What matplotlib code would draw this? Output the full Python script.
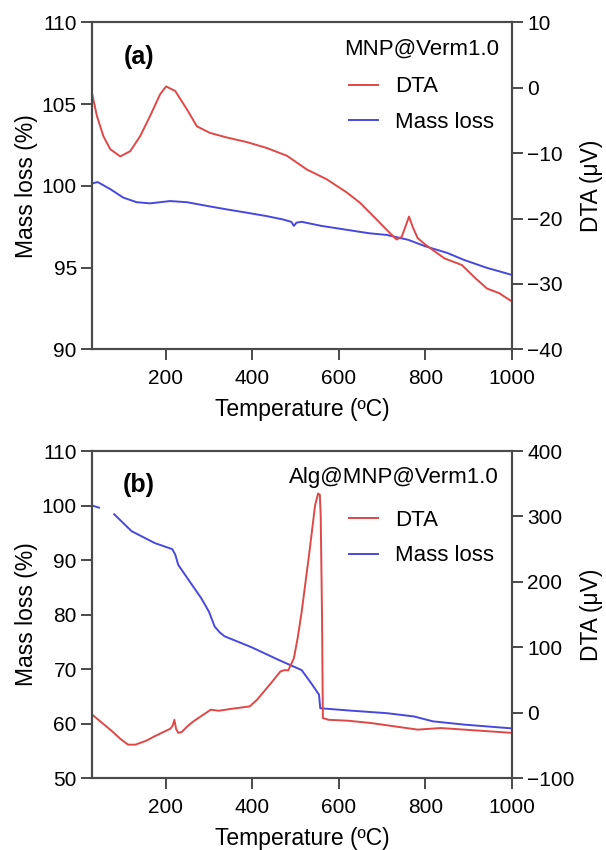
import matplotlib
matplotlib.use("Agg")
import matplotlib.pyplot as plt
import numpy as np

plt.rcParams["font.family"] = ["Liberation Sans", "DejaVu Sans"]

# ---- panel (a): MNP@Verm1.0 ----
a_dta_T = [30, 41, 56, 72, 95, 118, 141, 164, 187, 201, 222, 249, 272, 302, 341, 387,
           433, 480, 526, 572, 618, 649, 685, 710, 733, 745, 755, 762, 770, 782, 800,
           844, 884, 915, 942, 970, 1000]
a_dta = [-0.9, -4.3, -7.4, -9.4, -10.5, -9.7, -7.4, -4.3, -1.0, 0.2, -0.5, -3.3, -5.9,
         -6.9, -7.6, -8.3, -9.2, -10.4, -12.5, -14.0, -16.0, -17.6, -20.0, -21.7, -23.2,
         -22.8, -21.0, -19.7, -21.2, -23.0, -24.0, -26.1, -27.1, -29.1, -30.7, -31.4, -32.7]

a_mass_T = [30, 43, 72, 102, 133, 164, 210, 249, 296, 341, 387, 433, 470, 490, 496, 502,
            514, 560, 621, 670, 710, 760, 800, 850, 889, 940, 1000]
a_mass = [100.15, 100.23, 99.8, 99.28, 99.0, 98.93, 99.07, 99.0, 98.77, 98.56, 98.36,
          98.15, 97.95, 97.8, 97.55, 97.75, 97.8, 97.55, 97.3, 97.1, 97.0, 96.7, 96.3,
          95.9, 95.47, 95.0, 94.55]

# ---- panel (b): Alg@MNP@Verm1.0 ----
b_dta_T = [30, 50, 77, 95, 113, 130, 155, 175, 200, 211, 216, 220, 224, 229, 237, 250,
           264, 285, 304, 315, 322, 353, 394, 411, 443, 465, 475, 483, 496, 505, 514,
           532, 545, 552, 556, 558, 561, 563, 576, 621, 675, 728, 782, 835, 889, 1000]
b_dta = [-3, -14, -29, -40, -49, -49, -43, -36, -28, -24.6, -20, -11, -25, -31, -29.7,
         -21, -13.4, -4, 4.4, 3.5, 2.8, 5.9, 9.5, 19.7, 45, 63, 65, 64.5, 83, 115, 154,
         246, 317, 335, 333, 300, 150, -8.3, -11, -12.4, -16, -21, -26, -23.6, -26, -31]

b_mass_T = [30, 46, 60, 81, 121, 175, 215, 222, 229, 255, 282, 300, 313, 325, 336, 398,
            460, 514, 536, 554, 557, 621, 710, 773, 817, 889, 1000]
b_mass = [100.0, 99.6, np.nan, 98.4, 95.3, 93.1, 92.0, 91.0, 89.1, 86.1, 83.0, 80.5,
          77.8, 76.7, 76.0, 74.0, 71.7, 69.8, 67.4, 65.3, 62.8, 62.4, 61.9, 61.3, 60.4,
          59.8, 59.1]

RED = "#e04848"
BLUE = "#4848e0"
SPINE = "#4a4a4a"


def _panel(ax, T_dta, dta, T_mass, mass, tag, sample, leg_y,
           left_lim, left_ticks, right_lim, right_ticks):
    ax2 = ax.twinx()
    l1, = ax2.plot(T_dta, dta, color=RED, lw=1.4, label="DTA")
    l2, = ax.plot(T_mass, mass, color=BLUE, lw=1.4, label="Mass loss")
    ax.set_xlim(30, 1000)
    ax.set_ylim(*left_lim)
    ax.set_yticks(left_ticks)
    ax2.set_ylim(*right_lim)
    ax2.set_yticks(right_ticks)
    ax.set_xticks([200, 400, 600, 800, 1000])
    for a in (ax, ax2):
        for s in a.spines.values():
            s.set_color(SPINE)
            s.set_linewidth(1.5)
        a.tick_params(axis="y", length=8, width=1.4, color=SPINE, labelsize=15, pad=3)
    ax.tick_params(axis="x", length=8, width=1.4, color=SPINE, labelsize=15, pad=6.5)
    ax.set_xlabel("Temperature (ºC)", fontsize=16.5, labelpad=7)
    ax.set_ylabel("Mass loss (%)", fontsize=16.5)
    ax.yaxis.set_label_coords(-0.13, 0.5)
    ax2.set_ylabel("DTA (μV)", fontsize=16.5)
    ax2.yaxis.set_label_coords(1.162, 0.5)
    ax.text(0.112, 0.895, tag, transform=ax.transAxes, fontsize=18, fontweight="bold",
            ha="center", va="center")
    ax.text(0.968, 0.918, sample, transform=ax.transAxes, fontsize=16, ha="right", va="center")
    ax.legend([l1, l2], ["DTA", "Mass loss"], loc="upper left", bbox_to_anchor=(0.612, leg_y),
              frameon=False, fontsize=16, handlelength=1.3, handletextpad=0.75,
              labelspacing=0.65, borderpad=0, borderaxespad=0)
    return ax2


fig = plt.figure(figsize=(6.06, 8.5), dpi=100)
ax_a = fig.add_axes([0.152, 0.589, 0.693, 0.3847])
ax_b = fig.add_axes([0.152, 0.0847, 0.693, 0.3847])

_panel(ax_a, a_dta_T, a_dta, a_mass_T, a_mass, "(a)", "MNP@Verm1.0", 0.835,
       (90, 110), [90, 95, 100, 105, 110], (-40, 10), [-40, -30, -20, -10, 0, 10])
_panel(ax_b, b_dta_T, b_dta, b_mass_T, b_mass, "(b)", "Alg@MNP@Verm1.0", 0.82,
       (50, 110), [50, 60, 70, 80, 90, 100, 110], (-100, 400), [-100, 0, 100, 200, 300, 400])

fig.savefig("out.png", dpi=100)
